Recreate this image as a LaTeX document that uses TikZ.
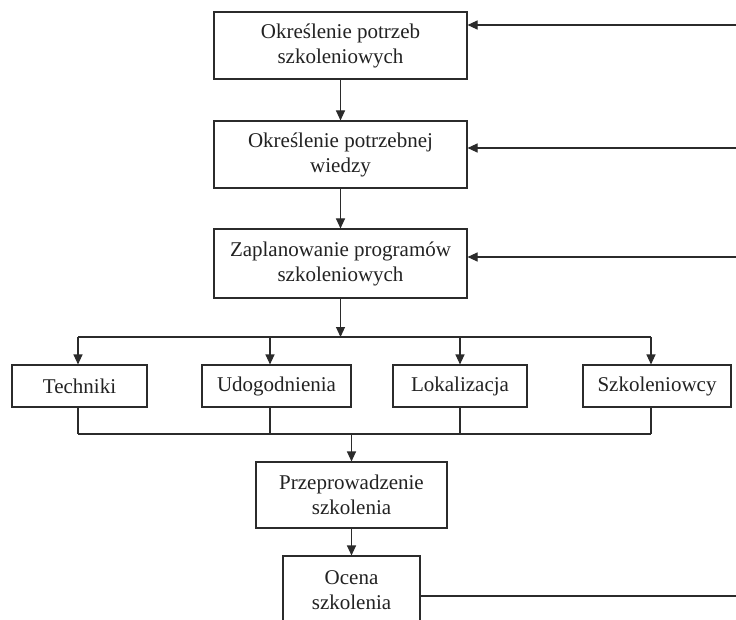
\documentclass[tikz,border=0pt]{standalone}
\usepackage{fontspec}
\setmainfont{Liberation Serif}
\usepackage{tikz}
\usetikzlibrary{arrows.meta,positioning}
\definecolor{linegray}{HTML}{2B2B2B}
\definecolor{textgray}{HTML}{222222}
\tikzset{
  flowbox/.style={draw=linegray, line width=1.1pt, fill=white, align=center, text=textgray, minimum width=253pt, minimum height=67pt, inner sep=0pt, font=\fontsize{21}{25}\selectfont},
  itembox/.style={flowbox, minimum height=42pt},
  flowarrow/.style={linegray, line width=1.1pt, -{Triangle[length=10pt,width=9pt]}},
  flowline/.style={linegray, line width=1.1pt}
}

\begin{document}
\begin{tikzpicture}[x=1pt,y=-1pt]
  \fill[white] (0,0) rectangle (736,620);
  \clip (0,0) rectangle (736,620);
  \node[flowbox] (needs) at (340.5,45.5) {Określenie potrzeb\\szkoleniowych};
  \node[flowbox] (knowledge) at (340.5,154.5) {Określenie potrzebnej\\wiedzy};
  \node[flowbox, minimum height=69pt] (planning) at (340.5,263.5) {Zaplanowanie programów\\szkoleniowych};
  \node[itembox, minimum width=135pt] (techniques) at (79.5,386) {Techniki};
  \node[itembox, minimum width=149pt] (facilities) at (276.5,386) {Udogodnienia};
  \node[itembox, minimum width=134pt] (location) at (460,386) {Lokalizacja};
  \node[itembox, minimum width=148pt] (trainers) at (657,386) {Szkoleniowcy};
  \node[flowbox, minimum width=191pt, minimum height=66pt] (conduct) at (351.5,495) {Przeprowadzenie\\szkolenia};
  \node[flowbox, minimum width=137pt, minimum height=68pt] (evaluation) at (351.5,590) {Ocena\\szkolenia};
  \coordinate (in1) at (736,25);
  \coordinate (in2) at (736,148);
  \coordinate (in3) at (736,257);
  \coordinate (split) at (340.5,337);
  \coordinate (splitL) at (78,337);
  \coordinate (splitR) at (651,337);
  \coordinate (joinL) at (78,434);
  \coordinate (joinR) at (651,434);
  \coordinate (join) at (351.5,434);
  \coordinate (out) at (736,596);
  \draw[flowarrow] (in1) -- (needs.east |- in1);
  \draw[flowarrow] (in2) -- (knowledge.east |- in2);
  \draw[flowarrow] (in3) -- (planning.east |- in3);
  \draw[flowarrow] (needs) -- (knowledge);
  \draw[flowarrow] (knowledge) -- (planning);
  \draw[flowarrow] (planning) -- (split);
  \draw[flowline] (splitL) -- (splitR);
  \foreach \nd/\x in {techniques/78,facilities/270,location/460,trainers/651}{
    \coordinate (drop) at (\x,337);
    \coordinate (rise) at (\x,434);
    \draw[flowarrow] (drop) -- (drop |- \nd.north);
    \draw[flowline] (rise |- \nd.south) -- (rise);
  }
  \draw[flowline] (joinL) -- (joinR);
  \draw[flowarrow] (join) -- (join |- conduct.north);
  \draw[flowarrow] (conduct) -- (evaluation);
  \draw[flowline] (evaluation.east |- out) -- (out);
\end{tikzpicture}
\end{document}
